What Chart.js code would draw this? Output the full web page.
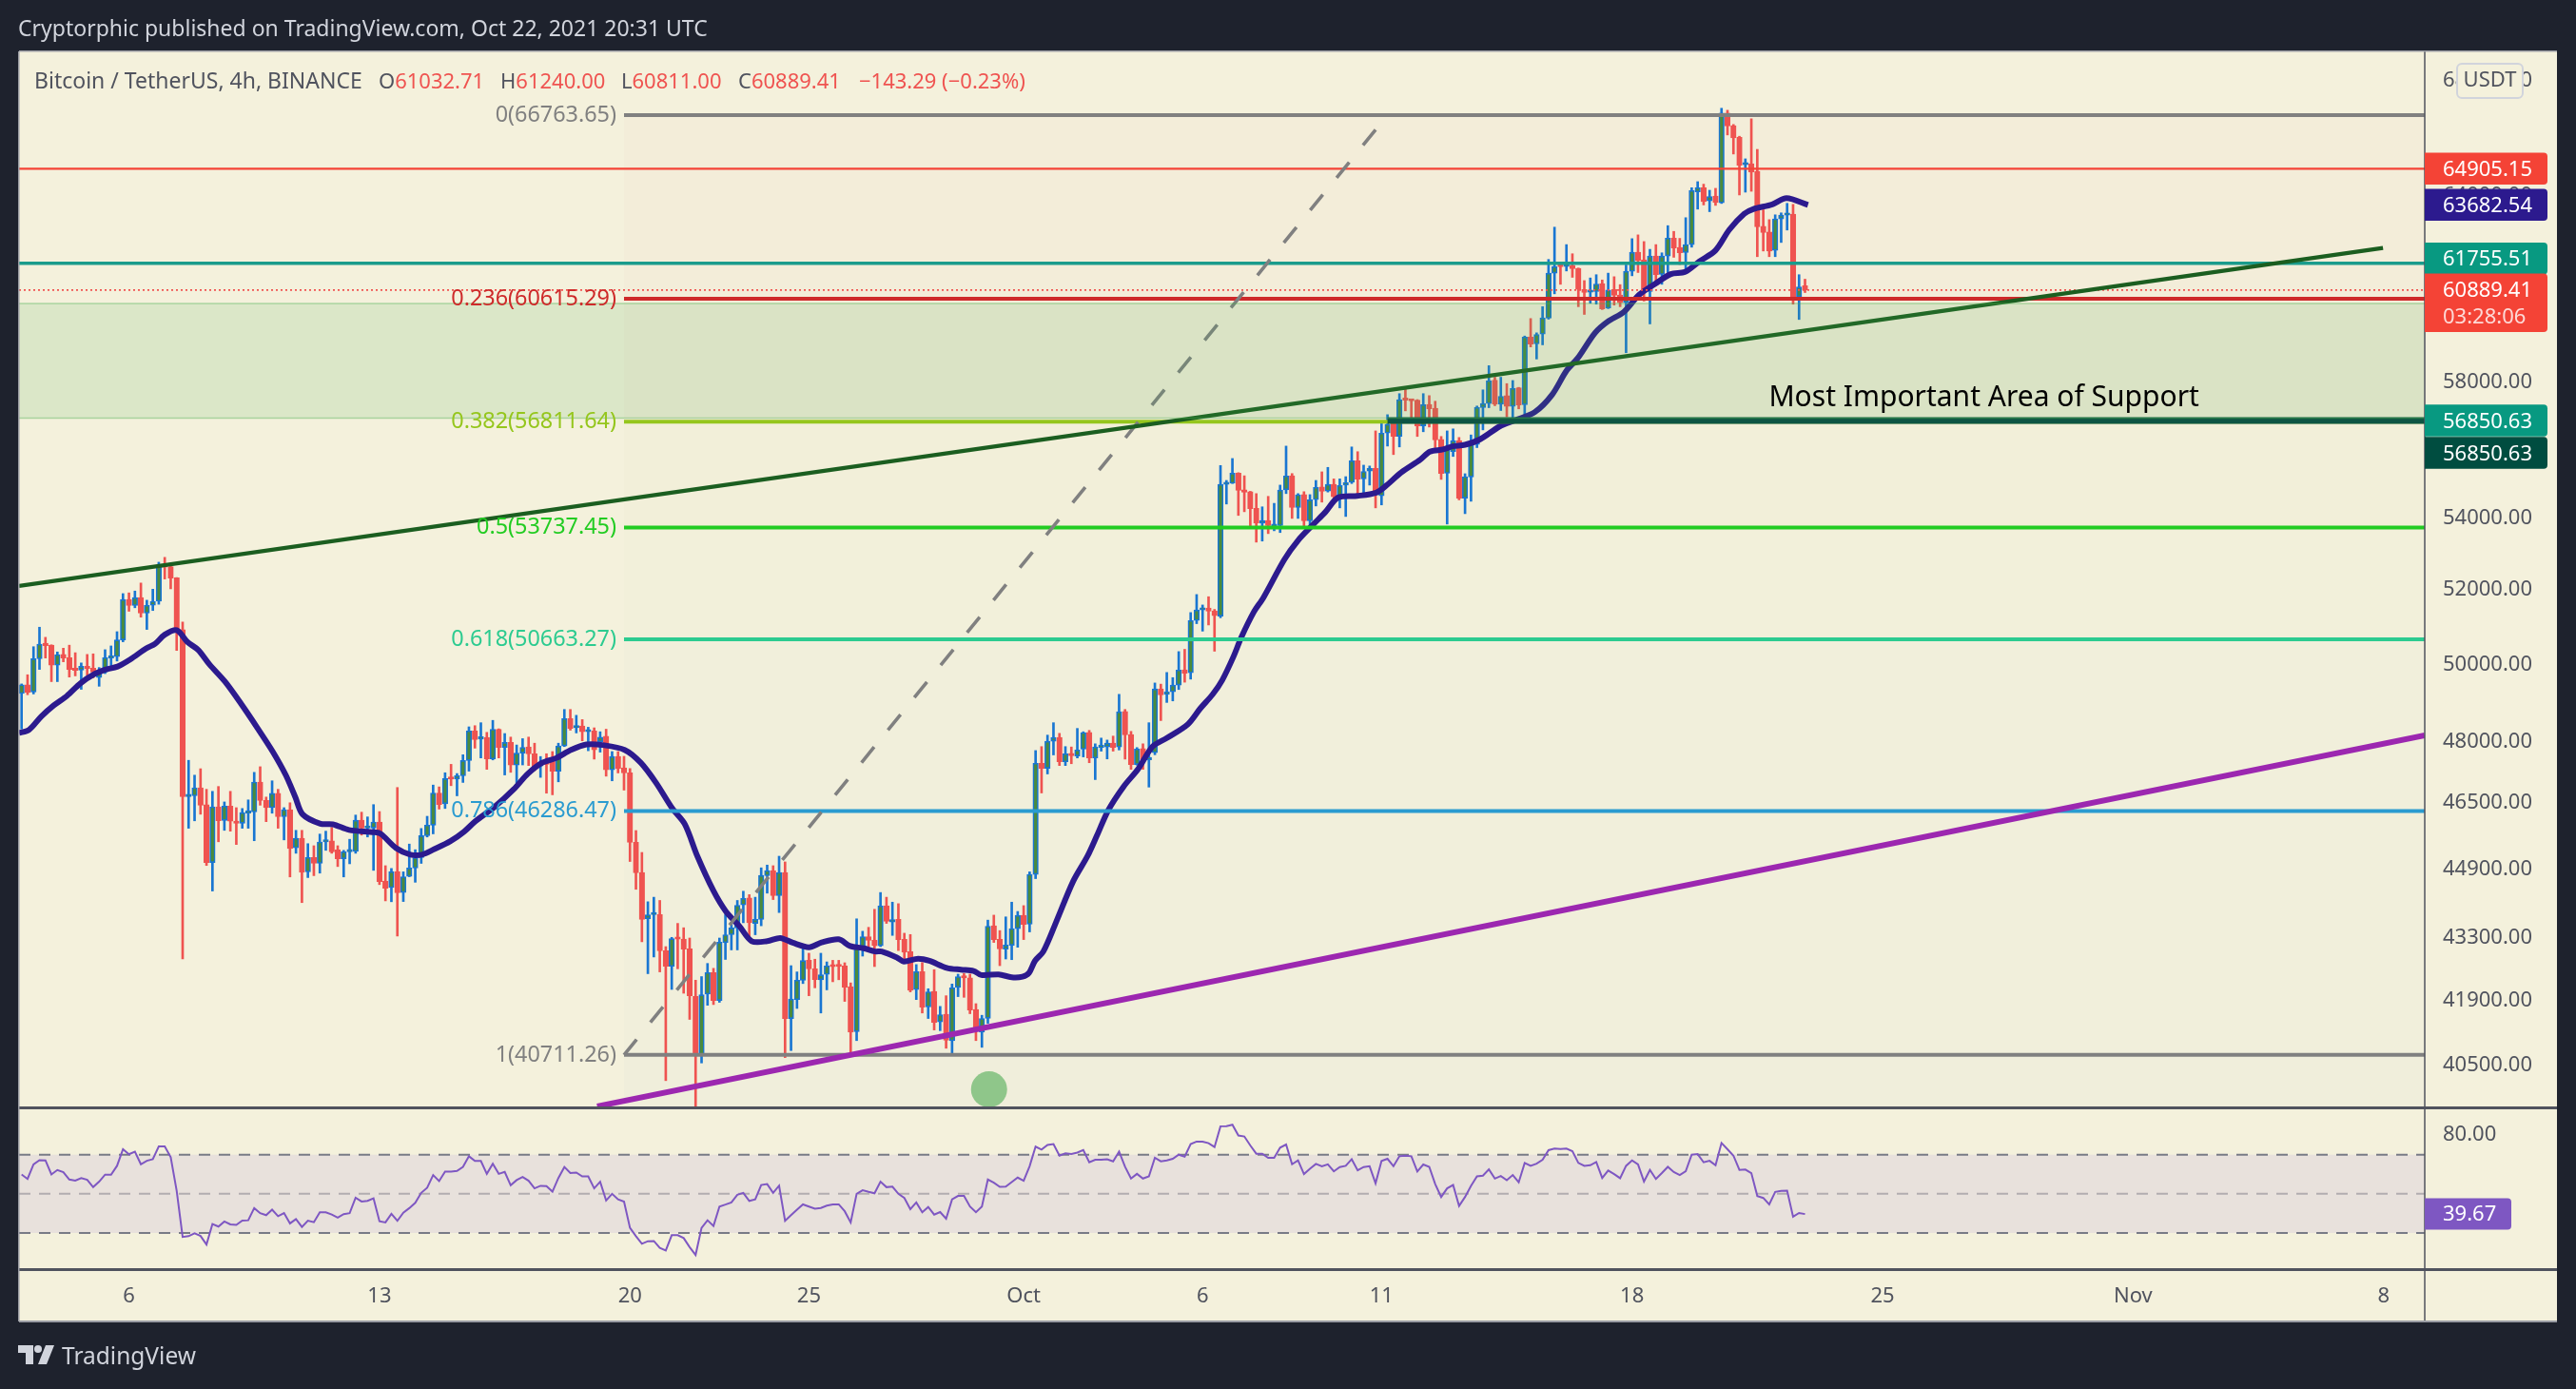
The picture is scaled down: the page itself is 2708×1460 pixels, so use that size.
<!DOCTYPE html>
<html><head><meta charset="utf-8"><title>BTCUSDT</title>
<script src="https://cdn.jsdelivr.net/npm/chart.js@4"></script>
<style>
html,body{margin:0;padding:0;background:#1e222d;width:2708px;height:1460px;overflow:hidden}
canvas{position:absolute;left:0;top:0}
.t{position:absolute;white-space:nowrap;font-family:"Noto Sans",sans-serif;line-height:30px}
</style></head><body>
<canvas id="c" width="2708" height="1460"></canvas>
<div class="t" style="left:19px;top:14px;font-size:23px;color:#d1d4dc">Cryptorphic published on TradingView.com, Oct 22, 2021 20:31 UTC</div>
<div class="t" style="left:36px;top:69px;font-size:23px;color:#50535e">Bitcoin / TetherUS, 4h, BINANCE</div>
<div class="t" style="left:398px;top:69px;font-size:22px;color:#ef5350"><span style="color:#50535e">O</span>61032.71</div>
<div class="t" style="left:526px;top:69px;font-size:22px;color:#ef5350"><span style="color:#50535e">H</span>61240.00</div>
<div class="t" style="left:653px;top:69px;font-size:22px;color:#ef5350"><span style="color:#50535e">L</span>60811.00</div>
<div class="t" style="left:776px;top:69px;font-size:22px;color:#ef5350"><span style="color:#50535e">C</span>60889.41</div>
<div class="t" style="left:903px;top:69px;font-size:22px;color:#ef5350">−143.29 (−0.23%)</div>
<svg style="position:absolute;left:19px;top:1414px" width="40" height="20" viewBox="0 0 40 20"><path fill="#d1d4dc" d="M0 0h16v20H8V8H0z"/><circle cx="21" cy="4" r="4" fill="#d1d4dc"/><path fill="#d1d4dc" d="M29 0h9l-8 20h-9z"/></svg>
<div class="t" style="left:65px;top:1410px;font-size:24.5px;color:#d1d4dc">TradingView</div>
<script>
const opens=[49240,49470,49280,50150,50540,50510,49980,50265,50180,49880,
49850,49950,49900,49660,49800,50170,50205,50650,51740,51575,
51790,51370,51580,51690,52660,52640,52335,50925,46640,46660,
46860,46440,45050,46390,46060,46410,46040,45990,46240,46265,
47000,46550,46370,46725,46150,46320,45400,45630,44830,45170,
45030,45540,45570,45350,45140,45305,45315,46065,45875,45875,
46020,44615,44460,44835,44345,44725,44920,45165,45690,45945,
46730,46465,47090,47070,47155,47535,48280,48075,48115,47575,
48325,47865,47990,47420,47720,47875,47705,47395,47495,47520,
47270,47900,48595,48360,48405,48260,48280,48005,48150,47300,
47635,47350,47230,45535,44815,43735,43830,43835,43005,42655,
43290,43270,43050,41985,40720,42035,42515,41895,43190,43370,
43525,44055,44220,43630,43720,44740,44860,44270,44815,41500,
41915,42340,42790,42600,42355,42475,42665,42665,42665,42200,
41215,43100,43325,43245,43120,44035,43660,43725,43265,42985,
42135,42535,41755,42095,41425,41595,41015,42185,42440,42395,
41695,41200,41505,43575,43265,43040,43130,43510,43815,43610,
44770,47465,47340,48020,48115,47505,47715,47650,47820,48245,
47600,47865,47875,47970,47875,48780,48190,47435,47835,47550,
47730,49360,49215,49285,49460,49860,49780,51170,51455,51505,
51430,51290,54970,55005,55295,54815,54760,54285,53860,53935,
53770,53790,54815,55220,54305,54675,53925,54530,54895,54775,
54970,54630,54950,55030,55660,55130,55355,55435,54640,56475,
56770,56380,57475,57475,57460,56690,57335,57220,56290,55295,
55925,56250,54575,55185,56140,57235,57360,58070,57340,57600,
57275,57840,57325,59405,59190,59495,59995,61435,61660,61650,
61680,61590,60910,60820,60840,61095,60310,60910,60730,60490,
61495,62115,61870,60840,61990,61395,61990,62580,62270,62105,
62365,64120,64260,63815,63975,63750,66835,66390,65990,65040,
65075,64815,62970,62780,62175,63215,63340,63370,60680,61032.71];
const highs=[49490,49730,50470,50990,50720,50520,50330,50430,50510,50310,
50040,50265,50280,49920,50390,50490,50870,51900,51920,51970,
52190,51720,52020,52765,52900,52700,52340,51130,47540,47170,
47330,46820,46770,46890,46510,46770,46370,46350,46560,47240,
47380,46630,47030,46820,46370,46490,45820,45820,45500,45450,
45730,45800,45890,45450,45340,45605,46190,46260,46145,46445,
46275,44975,44910,46865,44830,45490,45355,45865,46160,46925,
46880,47230,47440,47210,47680,48385,48415,48490,48245,48550,
48335,48215,48125,47925,48085,48125,47970,47635,47705,47760,
47970,48830,48830,48680,48570,48375,48360,48260,48325,47760,
47760,47640,47335,45815,45290,44130,44235,44160,43100,43310,
43630,43530,43295,42345,42425,42720,42610,43295,43830,43645,
44160,44375,44295,44235,44925,44990,44975,45200,45065,42670,
42530,43050,42950,42815,42950,42755,42790,42790,42735,42285,
43735,43450,43540,43955,44345,44235,44120,44085,43405,43375,
42695,42740,42155,42580,41765,42000,42260,42480,42495,42480,
41825,41570,43705,43820,43465,43780,44120,43905,44040,44830,
47785,47885,48175,48490,48220,47885,47875,48345,48260,48295,
47955,48100,48050,48150,49220,48830,48270,47860,47955,48490,
49515,49485,49790,49655,50340,50400,51385,51875,51590,51815,
51470,55520,55085,55725,55310,55220,54770,54705,54325,54625,
54425,54950,56090,55285,54705,54760,54675,55085,55335,55465,
55130,55130,55195,56065,55925,55530,55505,56540,56760,57025,
56910,57660,57790,57485,57480,57660,57600,57430,56375,56540,
56600,56345,55280,56420,57285,57775,58515,58160,58160,57965,
58060,57850,59435,59985,59535,60360,61880,62940,61745,62365,
62065,61600,61195,61280,61385,61215,61435,61320,61065,61700,
62560,62685,62465,62210,62365,62095,62990,62800,62570,63255,
64260,64465,64380,64175,64240,67005,66935,66435,66025,65245,
66635,65570,63520,63190,63350,63415,63735,63700,61385,61240];
const lows=[48330,49210,49230,49870,50170,49550,49550,50070,49670,49700,
49350,49710,49650,49430,49760,49960,50090,50600,51420,51515,
51260,50930,51440,51610,52300,52030,50370,42820,45870,46050,
46210,44980,44380,45545,45820,45800,45480,45870,45870,45570,
46430,46030,46235,45870,45590,44710,45270,44110,44695,44740,
44800,45340,45270,44955,44710,45020,45270,45705,45660,44865,
44530,44150,44130,43340,44135,44715,44585,45030,45660,45735,
46335,46350,46910,46660,46990,47270,47845,47600,47315,47550,
47600,47175,47240,46975,47425,47410,47285,47115,46725,46685,
47005,47885,48300,48230,48030,47780,47570,47745,47145,47030,
47225,46800,45075,44420,43210,42490,42865,42530,40165,42140,
42600,42055,41480,39590,40540,41790,41805,41855,42810,43025,
43025,43645,43280,43370,43575,44330,44180,43880,40655,40805,
41720,42270,42000,42175,41620,42130,42310,42355,41875,40755,
41020,42885,43065,42650,43100,43630,43355,43010,42740,42085,
41915,41620,41500,41250,41235,40855,40755,41980,41965,41605,
41020,40875,41395,43195,42670,42820,42805,43085,43260,43435,
44670,46730,47200,47675,47410,47410,47455,47600,47625,47480,
47060,47770,47575,47770,47800,47570,47315,47420,47315,46875,
47680,48545,49010,49050,49345,49535,49615,51085,50885,51050,
50350,51245,54405,54995,54080,54185,53770,53325,53355,53565,
53645,53595,54705,53995,53995,53770,53725,54350,54460,54750,
54570,54295,54050,54995,54695,54715,54950,54295,54380,56090,
55840,56065,57140,56930,56375,56515,56655,56045,55115,53835,
55785,54525,54130,54485,56045,56570,57235,57295,57150,56960,
56910,57200,56960,59095,58720,59160,59965,60770,61075,61505,
61300,60360,60115,60470,60440,60270,60300,60410,60360,58915,
61350,61455,60540,59815,61085,61075,61455,61950,61715,61455,
62280,63540,63680,63455,63665,63730,66070,65410,64015,64110,
64140,61970,62155,61970,61970,62435,62845,60440,59955,60811];
const closes=[49470,49270,50150,50540,50500,49980,50260,50170,49870,49845,
49950,49895,49800,49800,50180,50205,50650,51740,51575,51790,
51370,51580,51690,52660,52630,52325,50930,46640,46690,46860,
46430,45050,46390,46050,46410,46040,45990,46250,46270,47000,
46545,46370,46720,46150,46320,45385,45630,44820,45170,45030,
45540,45570,45305,45140,45305,45340,46065,45875,45905,46020,
44600,44445,44835,44340,44715,44920,45165,45690,45945,46730,
46445,47085,47070,47160,47535,48280,48060,48115,47575,48325,
47865,47990,47420,47720,47865,47700,47385,47440,47440,47270,
47900,48595,48345,48405,48260,48280,47800,48125,47300,47635,
47335,47225,45530,44805,43720,43830,43850,43005,42655,43280,
43270,43040,42000,40740,42020,42515,41895,43200,43370,43525,
44050,44210,43645,43725,44745,44860,44270,44815,41500,41925,
42345,42785,42595,42360,42465,42665,42645,42650,42190,41200,
43100,43325,43240,43120,44035,43675,43720,43260,42975,42120,
42535,41750,42085,41415,41585,41030,42175,42425,42395,41685,
41270,41500,43565,43260,43050,43135,43510,43815,43605,44770,
47465,47340,48020,48115,47505,47705,47655,47800,48240,47600,
47875,47890,47970,47865,48770,48180,47435,47825,47560,47615,
49360,49205,49285,49460,49855,49770,51170,51455,51505,51420,
51300,54970,55015,55295,54795,54740,54270,53860,53935,53790,
53805,54805,55215,54305,54670,53925,54525,54885,54770,54970,
54615,54940,55020,55660,55120,55345,55435,54750,56475,56740,
56380,57475,57460,57440,56690,57325,57200,56270,55285,56045,
56250,54570,55195,56155,57245,57360,58050,57340,57580,57275,
57820,57315,59405,59180,59485,60005,61435,61650,61640,61700,
61580,60910,60810,60850,61085,60290,60890,60720,60490,61495,
62115,61845,60840,61990,61385,61990,62580,62250,62095,62365,
64165,64260,63795,63965,63760,66835,66380,65965,65020,65085,
64790,62950,62760,62155,63215,63340,63370,60660,60990,60889.41];
const maIndex=[-0.43,1.2,3.3,5.4,7.6,9.9,12.3,13.9,16.1,18.2,20.9,22.4,24,26,27.8,29.6,31.5,34.1,36.8,39.5,42.1,44.3,45.9,47.1,50.1,52.2,54.9,59.1,60.2,62.8,65.2,67.1,69.2,71.9,74.2,76.1,79.3,82.5,84.9,87.3,89.7,92.1,94.7,97.4,101.1,103.8,106.4,109.1,111.2,113.3,116,118.1,120.3,122.4,125,127.2,129.3,132,134.1,137,138.9,141.2,143.1,144.2,146.8,147.9,150.3,152.2,155.1,157.5,159.6,160.9,163.8,166,167.8,168.9,169.9,171.3,173.4,176.3,178.7,180.3,182.2,184.8,187.2,189.6,192,195.5,197.6,199.7,201.3,203.2,204.5,206.6,208.2,211.7,214,216.5,218.6,220.7,223.9,227.1,228.7,231.3,234.5,236.1,238.3,239.9,242,244.6,247.8,250.5,253.7,256.6,259,260.9,263.8,265.9,268.6,271.2,273.9,276.5,278.9,281.3,284,286.3,288.8,290.3,293.5,295.9,299.5];
const maPrice=[48230,48302,48650,48935,49180,49510,49755,49860,49945,50130,50425,50550,50790,50910,50595,50385,50000,49550,48975,48365,47760,47170,46625,46210,45980,45965,45830,45775,45737,45392,45238,45238,45369,45560,45790,46043,46389,46818,47208,47481,47601,47802,47939,47924,47802,47481,46974,46350,45967,45200,44383,43902,43574,43224,43224,43297,43187,43085,43194,43267,43114,43063,42990,42990,42849,42764,42827,42778,42622,42580,42552,42460,42474,42410,42424,42509,42778,42990,43647,44606,45200,45698,46312,46896,47325,47883,48101,48447,48853,49222,49591,50214,50722,51403,51791,52836,53372,53815,54178,54590,54637,54732,54922,55315,55690,55924,55990,56082,56129,56298,56673,56864,57103,57629,58355,58749,59535,59886,60188,60740,61094,61403,61475,61816,62177,62854,63382,63540,63699,63910,63682.54];
const rsiValues=[59.9,57.6,65.0,67.2,67.1,59.9,62.2,61.1,57.3,56.8,58.0,57.2,53.4,56.2,59.8,59.8,64.3,72.8,70.2,71.5,65.1,66.9,67.7,74.2,74.2,68.7,51.6,28.0,28.4,29.8,28.5,24.1,34.6,33.3,35.9,34.4,34.1,36.3,36.5,42.7,40.1,39.1,41.9,38.6,40.2,34.9,37.1,33.1,36.3,35.5,40.6,40.6,39.4,37.8,39.6,40.1,48.0,46.1,46.4,47.7,36.0,35.4,39.8,36.2,40.4,42.7,45.4,50.5,53.1,59.6,56.5,61.4,61.4,61.7,63.8,69.2,66.8,66.8,60.2,65.4,60.2,61.2,54.4,57.0,58.6,56.7,52.8,54.1,53.9,51.1,58.1,63.7,60.6,60.9,58.9,58.9,52.8,56.2,46.6,50.0,47.2,46.0,32.6,28.4,24.5,25.8,25.9,22.4,21.1,28.9,28.9,27.4,22.8,18.8,32.6,36.5,33.6,43.5,44.5,45.6,49.5,50.5,46.4,47.2,54.5,55.0,50.5,54.2,36.2,39.1,41.9,44.6,43.5,42.4,42.8,44.0,44.6,44.6,41.1,35.4,50.0,51.8,51.0,50.3,56.2,53.4,53.7,50.0,47.9,42.2,45.6,40.6,43.3,
39.4,40.7,37.3,47.2,48.9,48.9,43.5,40.6,43.5,57.3,55.7,53.6,53.7,56.0,58.3,56.7,64.1,74.1,72.6,75.0,75.4,69.5,70.7,70.3,71.1,72.4,66.1,67.4,67.4,67.7,66.6,71.6,63.8,57.8,60.2,57.8,58.9,68.4,66.6,67.1,67.9,70.0,69.0,75.4,76.7,76.7,75.9,73.9,84.5,84.6,85.3,79.8,79.3,74.7,70.5,70.5,68.4,68.4,73.6,75.2,65.1,67.1,60.1,62.8,65.3,64.1,65.1,61.5,63.7,64.3,67.7,62.0,63.7,64.1,55.4,66.8,67.9,64.1,69.2,69.5,69.2,61.4,65.0,63.8,55.0,48.4,52.8,54.5,43.8,48.4,54.1,58.9,59.3,62.5,57.8,59.1,57.0,59.6,55.9,65.8,64.3,65.4,67.4,72.3,73.1,72.9,73.1,71.8,65.8,64.3,64.6,66.3,58.1,61.9,60.1,58.0,64.3,67.1,65.0,56.3,62.2,57.6,60.6,63.8,61.1,59.6,61.5,70.0,70.3,66.1,66.9,64.6,76.0,72.8,69.5,62.2,62.4,60.6,48.9,47.9,44.6,51.0,51.5,51.6,38.3,40.2,39.67];
const xTickPositions=[18,60,102,132,168,198,228,270,312,354,396];
const xTickLabels=['6','13','20','25','Oct','6','11','18','25','Nov','8'];
const priceTicks=[68000,64000,62000,60000,58000,56000,54000,52000,50000,48000,46500,44900,43300,41900,40500];
const rsiTicks=[80];
const rsiLevels=[70,50,30];
const fibRatios=['0','0.236','0.382','0.5','0.618','0.786','1'];
const fibPrices=[66763.65,60615.29,56811.64,53737.45,50663.27,46286.47,40711.26];
const fibColors=['#808080','#ce2a2a','#95c61d','#22cc22','#2ccb90','#2a9bd0','#808080'];
const fibFills=['#f3edd9','#f3edd9','#f2efd9','#f2f0da','#f1efdb','#f1efdb','#f0eedb'];
const fibStartIndex=101, fibEndTrendIndex=229;
const resistance=64905.15, upperSupport=61755.51, lastClose=60889.41, mainSupport=56850.63, mainSupportStart=229;
const zoneTop=60458, zoneBottom=56925;
const greenTrendIndex=[-0.43,395.9], greenTrendPrice=[52110,62253];
const purpleTrendIndex=[96.5,402.9], purpleTrendPrice=[39625,48170];
const marker={x:162.2,y:39980};
const tagLabels=['64905.15','63682.54','61755.51','60889.41','56850.63','56850.63'];
const tagPrices=[64905.15,63682.54,61755.51,60889.41,56850.63,56850.63];
const tagColors=['#f44336','#2c1a8e','#089981','#f44336','#089981','#004d40'];
const tagShifts=[0,0,-5,-1,0,34];
const indexMin=-0.43,indexMax=402.9;
const FONT='"Noto Sans", sans-serif';
const UP='#1976d2',DOWN='#ef5350',UPBODY='#4b8b3b',TICK='#50535e',CREAM='#f4f1dc';

const idx=opens.map((_,i)=>i);
const isUp=idx.map(i=>closes[i]>=opens[i]);
const hline=(v,a=indexMin,b=indexMax)=>[{x:a,y:v},{x:b,y:v}];
const lineSet=(data,color,width,order,extra={})=>Object.assign({type:'line',data,borderColor:color,borderWidth:width,pointRadius:0,order,yAxisID:'y',xAxisID:'x',tension:0},extra);

const datasets=[
 {type:'bar',data:idx.map(i=>({x:i,y:[lows[i],highs[i]]})),backgroundColor:idx.map(i=>isUp[i]?UP:DOWN),barThickness:2,order:60,xAxisID:'x',yAxisID:'y',grouped:false},
 {type:'bar',data:idx.map(i=>({x:i,y:[Math.min(opens[i],closes[i]),Math.max(opens[i],closes[i])]})),backgroundColor:idx.map(i=>isUp[i]?UPBODY:DOWN),borderColor:idx.map(i=>isUp[i]?UP:DOWN),borderWidth:1.6,borderSkipped:false,barThickness:5.6,minBarLength:2.4,order:59,xAxisID:'x',yAxisID:'y',grouped:false},
 lineSet(maIndex.map((x,i)=>({x,y:maPrice[i]})),'#2c1a8e',6,40,{tension:0.3}),
 lineSet(hline(resistance),'#f44336',2.2,35),
 lineSet(hline(upperSupport),'#1a9c8c',3.6,35),
 lineSet(hline(lastClose),'#ef5350',1.8,36,{borderDash:[2,3]}),
 ...fibPrices.map((p,i)=>lineSet(hline(p,fibStartIndex),fibColors[i],4,30)),
 lineSet(hline(mainSupport,mainSupportStart),'#0e5544',7,20),
 lineSet([{x:fibStartIndex,y:fibPrices[6]},{x:fibEndTrendIndex,y:fibPrices[0]}],'#808080',3.6,25,{borderDash:[21,23]}),
 lineSet(greenTrendIndex.map((x,i)=>({x,y:greenTrendPrice[i]})),'#1b5e20',4.4,22),
 lineSet(purpleTrendIndex.map((x,i)=>({x,y:purpleTrendPrice[i]})),'#9c27b0',6,21),
 lineSet([marker],'transparent',0,18,{showLine:false,pointRadius:19,pointBackgroundColor:'#8fc68a',pointBorderWidth:0}),
 ...rsiLevels.map((v,i)=>lineSet(hline(v),i===1?'#b2adb0':'#787b86',2,12,{yAxisID:'rsi',borderDash:[12,9]})),
 lineSet(rsiValues.map((y,x)=>({x,y})),'#7e57c2',2,10,{yAxisID:'rsi'})
];

const framePlugin={id:'frame',
 beforeDraw(ch){const c=ch.ctx,a=ch.chartArea,yS=ch.scales.y;
  c.save();c.fillStyle=CREAM;c.fillRect(a.left,a.top,yS.right-a.left,ch.scales.x.bottom-a.top);c.restore();},
 beforeDatasetsDraw(ch){const c=ch.ctx,x=ch.scales.x,y=ch.scales.y,r=ch.scales.rsi;const a=ch.chartArea;
  c.save();
  const x0=x.getPixelForValue(fibStartIndex),x1=a.right;
  let top=y.getPixelForValue(fibPrices[0]);
  fibPrices.forEach((p,i)=>{const next=i<6?y.getPixelForValue(fibPrices[i+1]):y.bottom;const from=i===0?top:y.getPixelForValue(p);
    c.fillStyle=fibFills[i];c.fillRect(x0,from,x1-x0,next-from);});
  c.fillStyle='#e8e1dc';const ra=r.getPixelForValue(rsiLevels[0]),rb=r.getPixelForValue(rsiLevels[2]);c.fillRect(a.left,ra,a.right-a.left,rb-ra);
  c.restore();},
 afterDatasetsDraw(ch){const c=ch.ctx,x=ch.scales.x,y=ch.scales.y,r=ch.scales.rsi,a=ch.chartArea;
  c.save();
  const zt=y.getPixelForValue(zoneTop),zb=y.getPixelForValue(zoneBottom);
  c.fillStyle='rgba(76,175,80,0.145)';c.fillRect(a.left,zt,a.right-a.left,zb-zt);
  c.strokeStyle='rgba(76,175,80,0.4)';c.lineWidth=1.5;c.beginPath();c.moveTo(a.left,zt);c.lineTo(a.right,zt);c.moveTo(a.left,zb);c.lineTo(a.right,zb);c.stroke();
  // fib labels
  c.font='23.4px '+FONT;c.textAlign='right';c.textBaseline='middle';
  fibPrices.forEach((p,i)=>{c.fillStyle=fibColors[i];c.fillText(fibRatios[i]+'('+p.toFixed(2)+')',x.getPixelForValue(fibStartIndex)-8,y.getPixelForValue(p));});
  // note
  c.font='30px '+FONT;c.textAlign='center';c.fillStyle='#000';c.fillText('Most Important Area of Support',x.getPixelForValue(329),y.getPixelForValue(57515));
  // separators
  c.fillStyle='#50535e';
  c.fillRect(a.left,y.bottom-2,y.right-a.left,3);
  c.fillRect(a.left,r.bottom-2,y.right-a.left,3);
  c.fillRect(a.right-0.75,a.top,1.5,x.bottom-a.top);
  c.fillStyle='#9a9ca3';
  c.fillRect(a.left,a.top-1,y.right-a.left,1.5);
  c.fillRect(a.left,x.bottom-1,y.right-a.left,2);
  c.fillRect(a.left-1,a.top,1.5,x.bottom-a.top);
  // price tags
  c.textAlign='left';c.font='22px '+FONT;
  tagPrices.forEach((p,i)=>{
    const cy=y.getPixelForValue(p)+tagShifts[i];const h=i===3?61.5:33.5;const t=i===3?cy-16.5:cy-h/2;
    c.fillStyle=tagColors[i];c.beginPath();c.roundRect(a.right,t,129,h,[0,4,4,0]);c.fill();
    c.fillStyle='#fff';c.fillText(tagLabels[i],a.right+19,t+18);
    if(i===3){c.fillStyle='rgba(255,255,255,.8)';c.fillText('03:28:06',a.right+19,t+46);}
  });
  const rv=r.getPixelForValue(rsiValues[rsiValues.length-1]);
  c.fillStyle='#7e57c2';c.beginPath();c.roundRect(a.right,rv-16.5,91,33,[0,4,4,0]);c.fill();
  c.fillStyle='#fff';c.fillText('39.67',a.right+19,rv+0.5);
  // currency button
  c.fillStyle=CREAM;c.strokeStyle='#d1d4dc';c.lineWidth=2;c.beginPath();c.roundRect(a.right+34,67,69,36,5);c.fill();c.stroke();
  c.fillStyle='#50535e';c.textAlign='center';c.fillText('USDT',a.right+68.5,85);
  c.restore();}
};
const fixW=s=>{s.width=139};
new Chart(document.getElementById('c'),{
 type:'bar',
 data:{datasets},
 plugins:[framePlugin],
 options:{responsive:false,animation:false,devicePixelRatio:1,
  layout:{padding:{left:20,top:54,right:20,bottom:71}},
  plugins:{legend:{display:false},tooltip:{enabled:false},title:{display:false}},
  scales:{
   x:{type:'linear',position:'bottom',min:indexMin,max:indexMax,offset:false,grid:{display:false,drawTicks:false},border:{display:false},
      afterBuildTicks:s=>{s.ticks=xTickPositions.map(value=>({value}))},afterFit:s=>{s.height=54},
      ticks:{autoSkip:false,maxRotation:0,color:TICK,font:{family:FONT,size:22},padding:15,callback:v=>xTickLabels[xTickPositions.indexOf(v)]}},
   y:{type:'logarithmic',position:'right',stack:'panes',stackWeight:1111,min:39583,max:69041,weight:1,grid:{display:false,drawTicks:false},border:{display:false},
      afterBuildTicks:s=>{s.ticks=priceTicks.map(value=>({value}))},afterFit:fixW,
      ticks:{autoSkip:false,color:TICK,font:{family:FONT,size:22},padding:19,callback:v=>Number(v).toFixed(2)}},
   rsi:{type:'linear',position:'right',stack:'panes',stackWeight:170,min:11.05,max:93.67,weight:2,grid:{display:false,drawTicks:false},border:{display:false},
      afterBuildTicks:s=>{s.ticks=rsiTicks.map(value=>({value}))},afterFit:fixW,
      ticks:{autoSkip:false,color:TICK,font:{family:FONT,size:22},padding:19,callback:v=>Number(v).toFixed(2)}}
  }
 }
});
</script></body></html>
